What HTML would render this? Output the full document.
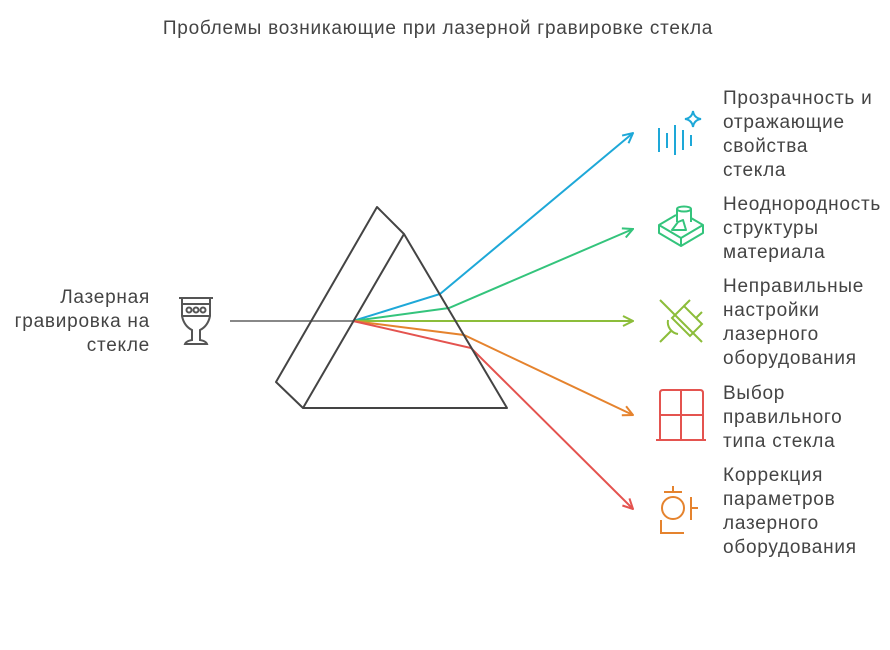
<!DOCTYPE html>
<html><head><meta charset="utf-8"><style>
html,body{margin:0;padding:0;background:#fff;}
svg{display:block;font-family:"Liberation Sans","DejaVu Sans",sans-serif;}
text{fill:#444;font-size:19px;letter-spacing:0.75px;}
</style></head><body>
<svg width="890" height="650" viewBox="0 0 890 650" xmlns="http://www.w3.org/2000/svg">
<defs>
<marker id="mb" viewBox="0 0 12 12" refX="11" refY="6" markerWidth="12" markerHeight="12" markerUnits="userSpaceOnUse" orient="auto"><path d="M1,1 L11,6 L1,11" fill="none" stroke="#1ea8d8" stroke-width="2"/></marker>
<marker id="mg" viewBox="0 0 12 12" refX="11" refY="6" markerWidth="12" markerHeight="12" markerUnits="userSpaceOnUse" orient="auto"><path d="M1,1 L11,6 L1,11" fill="none" stroke="#34c47c" stroke-width="2"/></marker>
<marker id="ml" viewBox="0 0 12 12" refX="11" refY="6" markerWidth="12" markerHeight="12" markerUnits="userSpaceOnUse" orient="auto"><path d="M1,1 L11,6 L1,11" fill="none" stroke="#8cbd3a" stroke-width="2"/></marker>
<marker id="mo" viewBox="0 0 12 12" refX="11" refY="6" markerWidth="12" markerHeight="12" markerUnits="userSpaceOnUse" orient="auto"><path d="M1,1 L11,6 L1,11" fill="none" stroke="#e5832e" stroke-width="2"/></marker>
<marker id="mr" viewBox="0 0 12 12" refX="11" refY="6" markerWidth="12" markerHeight="12" markerUnits="userSpaceOnUse" orient="auto"><path d="M1,1 L11,6 L1,11" fill="none" stroke="#e4534f" stroke-width="2"/></marker>
</defs>
<text x="438" y="34" text-anchor="middle">Проблемы возникающие при лазерной гравировке стекла</text>

<line x1="230" y1="321" x2="353" y2="321" stroke="#888" stroke-width="2"/>
<g fill="none" stroke-width="2">
<polyline points="353,321 440,294 633,133" stroke="#1ea8d8" marker-end="url(#mb)"/>
<polyline points="353,321 449,308 633,229" stroke="#34c47c" marker-end="url(#mg)"/>
<polyline points="353,321 633,321" stroke="#8cbd3a" marker-end="url(#ml)"/>
<polyline points="353,321 464,335 633,415" stroke="#e5832e" marker-end="url(#mo)"/>
<polyline points="353,321 471,348 633,509" stroke="#e4534f" marker-end="url(#mr)"/>
</g>
<g fill="none" stroke="#444" stroke-width="2" stroke-linejoin="round">
<polyline points="404,234 377,207 276,382 303,408"/>
<polygon points="404,234 303,408 507,408"/>
</g>

<g fill="none" stroke="#555" stroke-width="2">
<line x1="179" y1="298" x2="213" y2="298"/>
<path d="M182,298 L182,316 Q184,326 192,330 L192,340 Q186,341 185,344 L207,344 Q206,341 200,340 L200,330 Q208,326 210,316 L210,298"/>
<line x1="182" y1="304" x2="210" y2="304"/>
<line x1="182" y1="316" x2="210" y2="316"/>
<circle cx="189" cy="310" r="2.5"/><circle cx="196" cy="310" r="2.5"/><circle cx="203" cy="310" r="2.5"/>
</g>

<g fill="none" stroke="#1ea8d8" stroke-width="2">
<line x1="659" y1="128" x2="659" y2="152"/><line x1="667" y1="133" x2="667" y2="148"/>
<line x1="675" y1="125" x2="675" y2="155"/><line x1="683" y1="130" x2="683" y2="150"/>
<line x1="691" y1="135" x2="691" y2="146"/>
<path d="M693,111 Q694,118 701,119 Q694,120 693,127 Q692,120 685,119 Q692,118 693,111Z"/>
</g>
<g fill="none" stroke="#34c47c" stroke-width="2" stroke-linejoin="round">
<path d="M676,215 L659,225 L681,238 L703,225 L691,218"/>
<path d="M659,225 L659,233 L681,246 L703,233 L703,225"/><line x1="681" y1="238" x2="681" y2="246"/>
<ellipse cx="684" cy="209" rx="7" ry="2.5"/><path d="M677,209 L677,222 M691,209 L691,222"/>
<path d="M678,222 L683,220 L686,230 L672,230Z"/>
</g>
<g fill="none" stroke="#8cbd3a" stroke-width="2">
<line x1="660" y1="300" x2="702" y2="342"/>
<path d="M672,318 L684,306 L702,324 L690,336Z"/>
<line x1="690" y1="300" x2="684" y2="306"/><line x1="702" y1="312" x2="696" y2="318"/>
<path d="M678,334 A12,12 0 0 1 668,320"/>
<line x1="660" y1="342" x2="671" y2="331"/>
</g>
<g fill="none" stroke="#e4534f" stroke-width="2">
<path d="M660,439 L660,393 Q660,390 663,390 L700,390 Q703,390 703,393 L703,439"/>
<line x1="656" y1="440" x2="706" y2="440"/>
<line x1="681" y1="390" x2="681" y2="440"/><line x1="660" y1="415" x2="703" y2="415"/>
</g>
<g fill="none" stroke="#e5832e" stroke-width="2">
<circle cx="673" cy="508" r="11"/>
<line x1="673" y1="486" x2="673" y2="492"/><line x1="664" y1="492" x2="682" y2="492"/>
<line x1="691" y1="497" x2="691" y2="520"/><line x1="691" y1="508" x2="698" y2="508"/>
<path d="M661,520 L661,533 L684,533"/>
</g>

<text x="150" y="303" text-anchor="end">Лазерная</text>
<text x="150" y="327" text-anchor="end">гравировка на</text>
<text x="150" y="351" text-anchor="end">стекле</text>

<text x="723" y="104">Прозрачность и</text>
<text x="723" y="128">отражающие</text>
<text x="723" y="152">свойства</text>
<text x="723" y="176">стекла</text>

<text x="723" y="210">Неоднородность</text>
<text x="723" y="234">структуры</text>
<text x="723" y="258">материала</text>

<text x="723" y="292">Неправильные</text>
<text x="723" y="316">настройки</text>
<text x="723" y="340">лазерного</text>
<text x="723" y="364">оборудования</text>

<text x="723" y="399">Выбор</text>
<text x="723" y="423">правильного</text>
<text x="723" y="447">типа стекла</text>

<text x="723" y="481">Коррекция</text>
<text x="723" y="505">параметров</text>
<text x="723" y="529">лазерного</text>
<text x="723" y="553">оборудования</text>
</svg>
</body></html>
